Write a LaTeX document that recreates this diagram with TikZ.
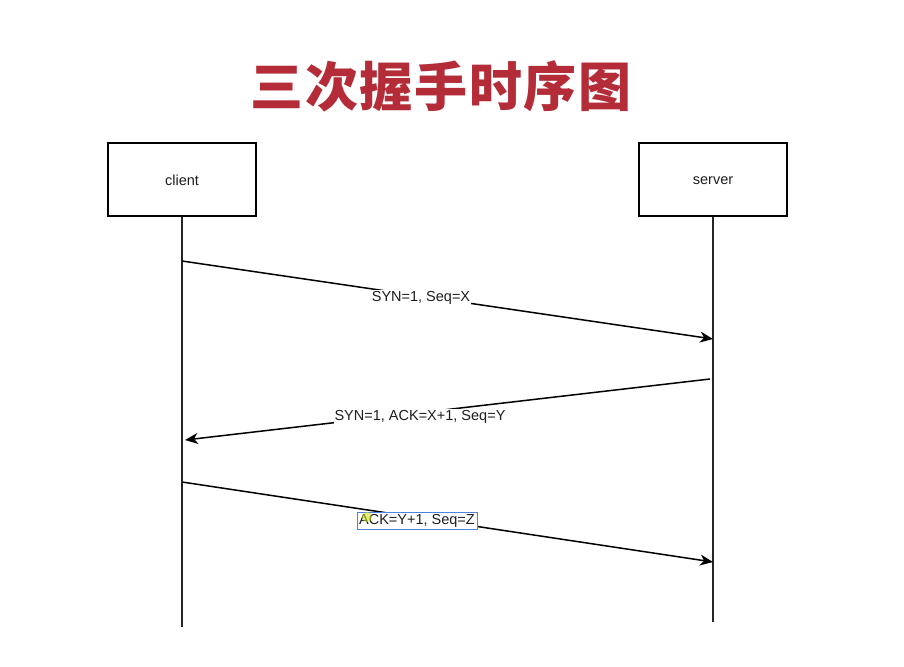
\documentclass[tikz,border=0pt]{standalone}
\usepackage{fontspec}
\setmainfont{Liberation Sans}
\newfontfamily\cjk{Noto Sans CJK SC}
\usetikzlibrary{arrows.meta}
\definecolor{titlered}{RGB}{180,44,56}
\definecolor{selblue}{RGB}{80,130,215}
\definecolor{txtgray}{RGB}{30,30,30}
\tikzset{
  actor/.style={draw=black, line width=1.5pt, minimum width=148pt, minimum height=73pt, inner sep=0pt, font=\fontsize{14.5}{16}\selectfont, text=txtgray, text depth=0pt, yshift=0pt},
  life/.style={line width=1.5pt, black!85},
  msg/.style={line width=1.5pt, -{Stealth[length=13pt,width=11pt,inset=4pt]}},
  msglabel/.style={fill=white, inner sep=1pt, font=\fontsize{14.5}{16}\selectfont, text=txtgray},
}
\begin{document}
\begin{tikzpicture}[x=1pt,y=-1pt]
\useasboundingbox[fill=white] (0,0) rectangle (904,666);
% title
\node (title) at (441,86) {\cjk\bfseries\fontsize{53}{58}\selectfont\addfontfeature{LetterSpace=3}\textcolor{titlered}{三次握手时序图}};
% actors
\node[actor] (client) at (182,179.5) {\raisebox{-2pt}{client}};
\node[actor] (server) at (713,179.5) {\raisebox{-2pt}{server}};
\coordinate (cend) at (182,627);
\coordinate (send) at (713,622);
\draw[life] (client.south) -- (cend);
\draw[life] (server.south) -- (send);
% messages
\coordinate (m1s) at (182,261);
\coordinate (m1e) at (713,339);
\coordinate (m2s) at (710,379);
\coordinate (m2e) at (185,440);
\coordinate (m3s) at (182,482);
\coordinate (m3e) at (713,562);
\draw[msg] (m1s) -- (m1e);
\draw[msg] (m2s) -- (m2e);
\draw[msg] (m3s) -- (m3e);
\node[msglabel] (l1) at (421,298) {SYN=1, Seq=X};
\node[msglabel] (l2) at (420,417) {SYN=1, ACK=X+1, Seq=Y};
\node[msglabel, draw=selblue, line width=0.9pt, minimum width=120pt, minimum height=17pt, inner sep=0pt] (l3) at (417,520.5) {ACK=Y+1, Seq=Z};
\fill[yellow!80!green, opacity=0.55] (367,517) circle (5pt);
\end{tikzpicture}
\end{document}
